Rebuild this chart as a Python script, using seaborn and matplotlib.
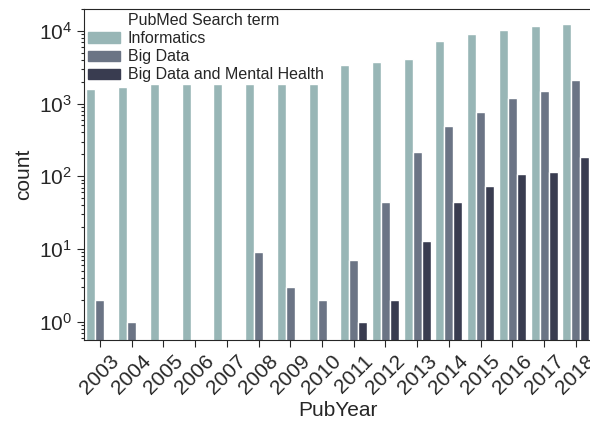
import numpy as np
import pandas as pd
import matplotlib
matplotlib.use("Agg")
import matplotlib.pyplot as plt
import matplotlib.patches as mpatches
import seaborn as sns

# --- data ---
years = list(range(2003, 2019))
terms = ["Informatics", "Big Data", "Big Data and Mental Health"]

informatics = [1580, 1680, 1850, 1850, 1850, 1850, 1850, 1850,
               3380, 3720, 4090, 7220, 9010, 10230, 11620, 12370]
big_data = [2, 1, 0, 0, 0, 9, 3, 2,
            7, 44, 215, 490, 764, 1190, 1485, 2100]
big_data_mh = [0, 0, 0, 0, 0, 0, 0, 0,
               1, 2, 13, 44, 73, 107, 114, 184]

palette = ["#98b6b6", "#6b7485", "#393c50"]

# long format table for seaborn
df = pd.DataFrame({
    "PubYear": years * 3,
    "PubMed Search term": np.repeat(terms, len(years)),
    "count": informatics + big_data + big_data_mh,
})

sns.set_style("ticks")
plt.rcParams["font.family"] = ["Liberation Sans", "DejaVu Sans"]

fig, ax = plt.subplots(figsize=(5.9, 4.24), dpi=100)
fig.subplots_adjust(left=0.1424, right=1.003, top=0.979, bottom=0.198)

sns.barplot(data=df, x="PubYear", y="count", hue="PubMed Search term",
            palette=palette, saturation=1, width=0.85, ax=ax)

ax.set_yscale("log")
ax.set_ylim(0.56, 2.0e4)
ax.tick_params(axis="both", labelsize=15, length=5)
ax.tick_params(axis="y", which="minor", length=2.5, width=0.8, left=True)
ax.tick_params(axis="x", rotation=45)
ax.set_xlabel("PubYear", fontsize=15, labelpad=2)
ax.set_ylabel("count", fontsize=15)

# legend title drawn as a blank first entry (aligned with the labels)
handles = [mpatches.Rectangle((0, 0), 1, 1, visible=False)]
handles += [mpatches.Patch(color=c) for c in palette]
labels = ["PubMed Search term"] + terms
ax.legend(handles, labels, loc="upper left", frameon=False,
          fontsize=11.5, borderaxespad=0.05, borderpad=0.2,
          handlelength=2.0, handleheight=0.6, labelspacing=0.2,
          handletextpad=0.5)

fig.savefig("out.png", dpi=100)
